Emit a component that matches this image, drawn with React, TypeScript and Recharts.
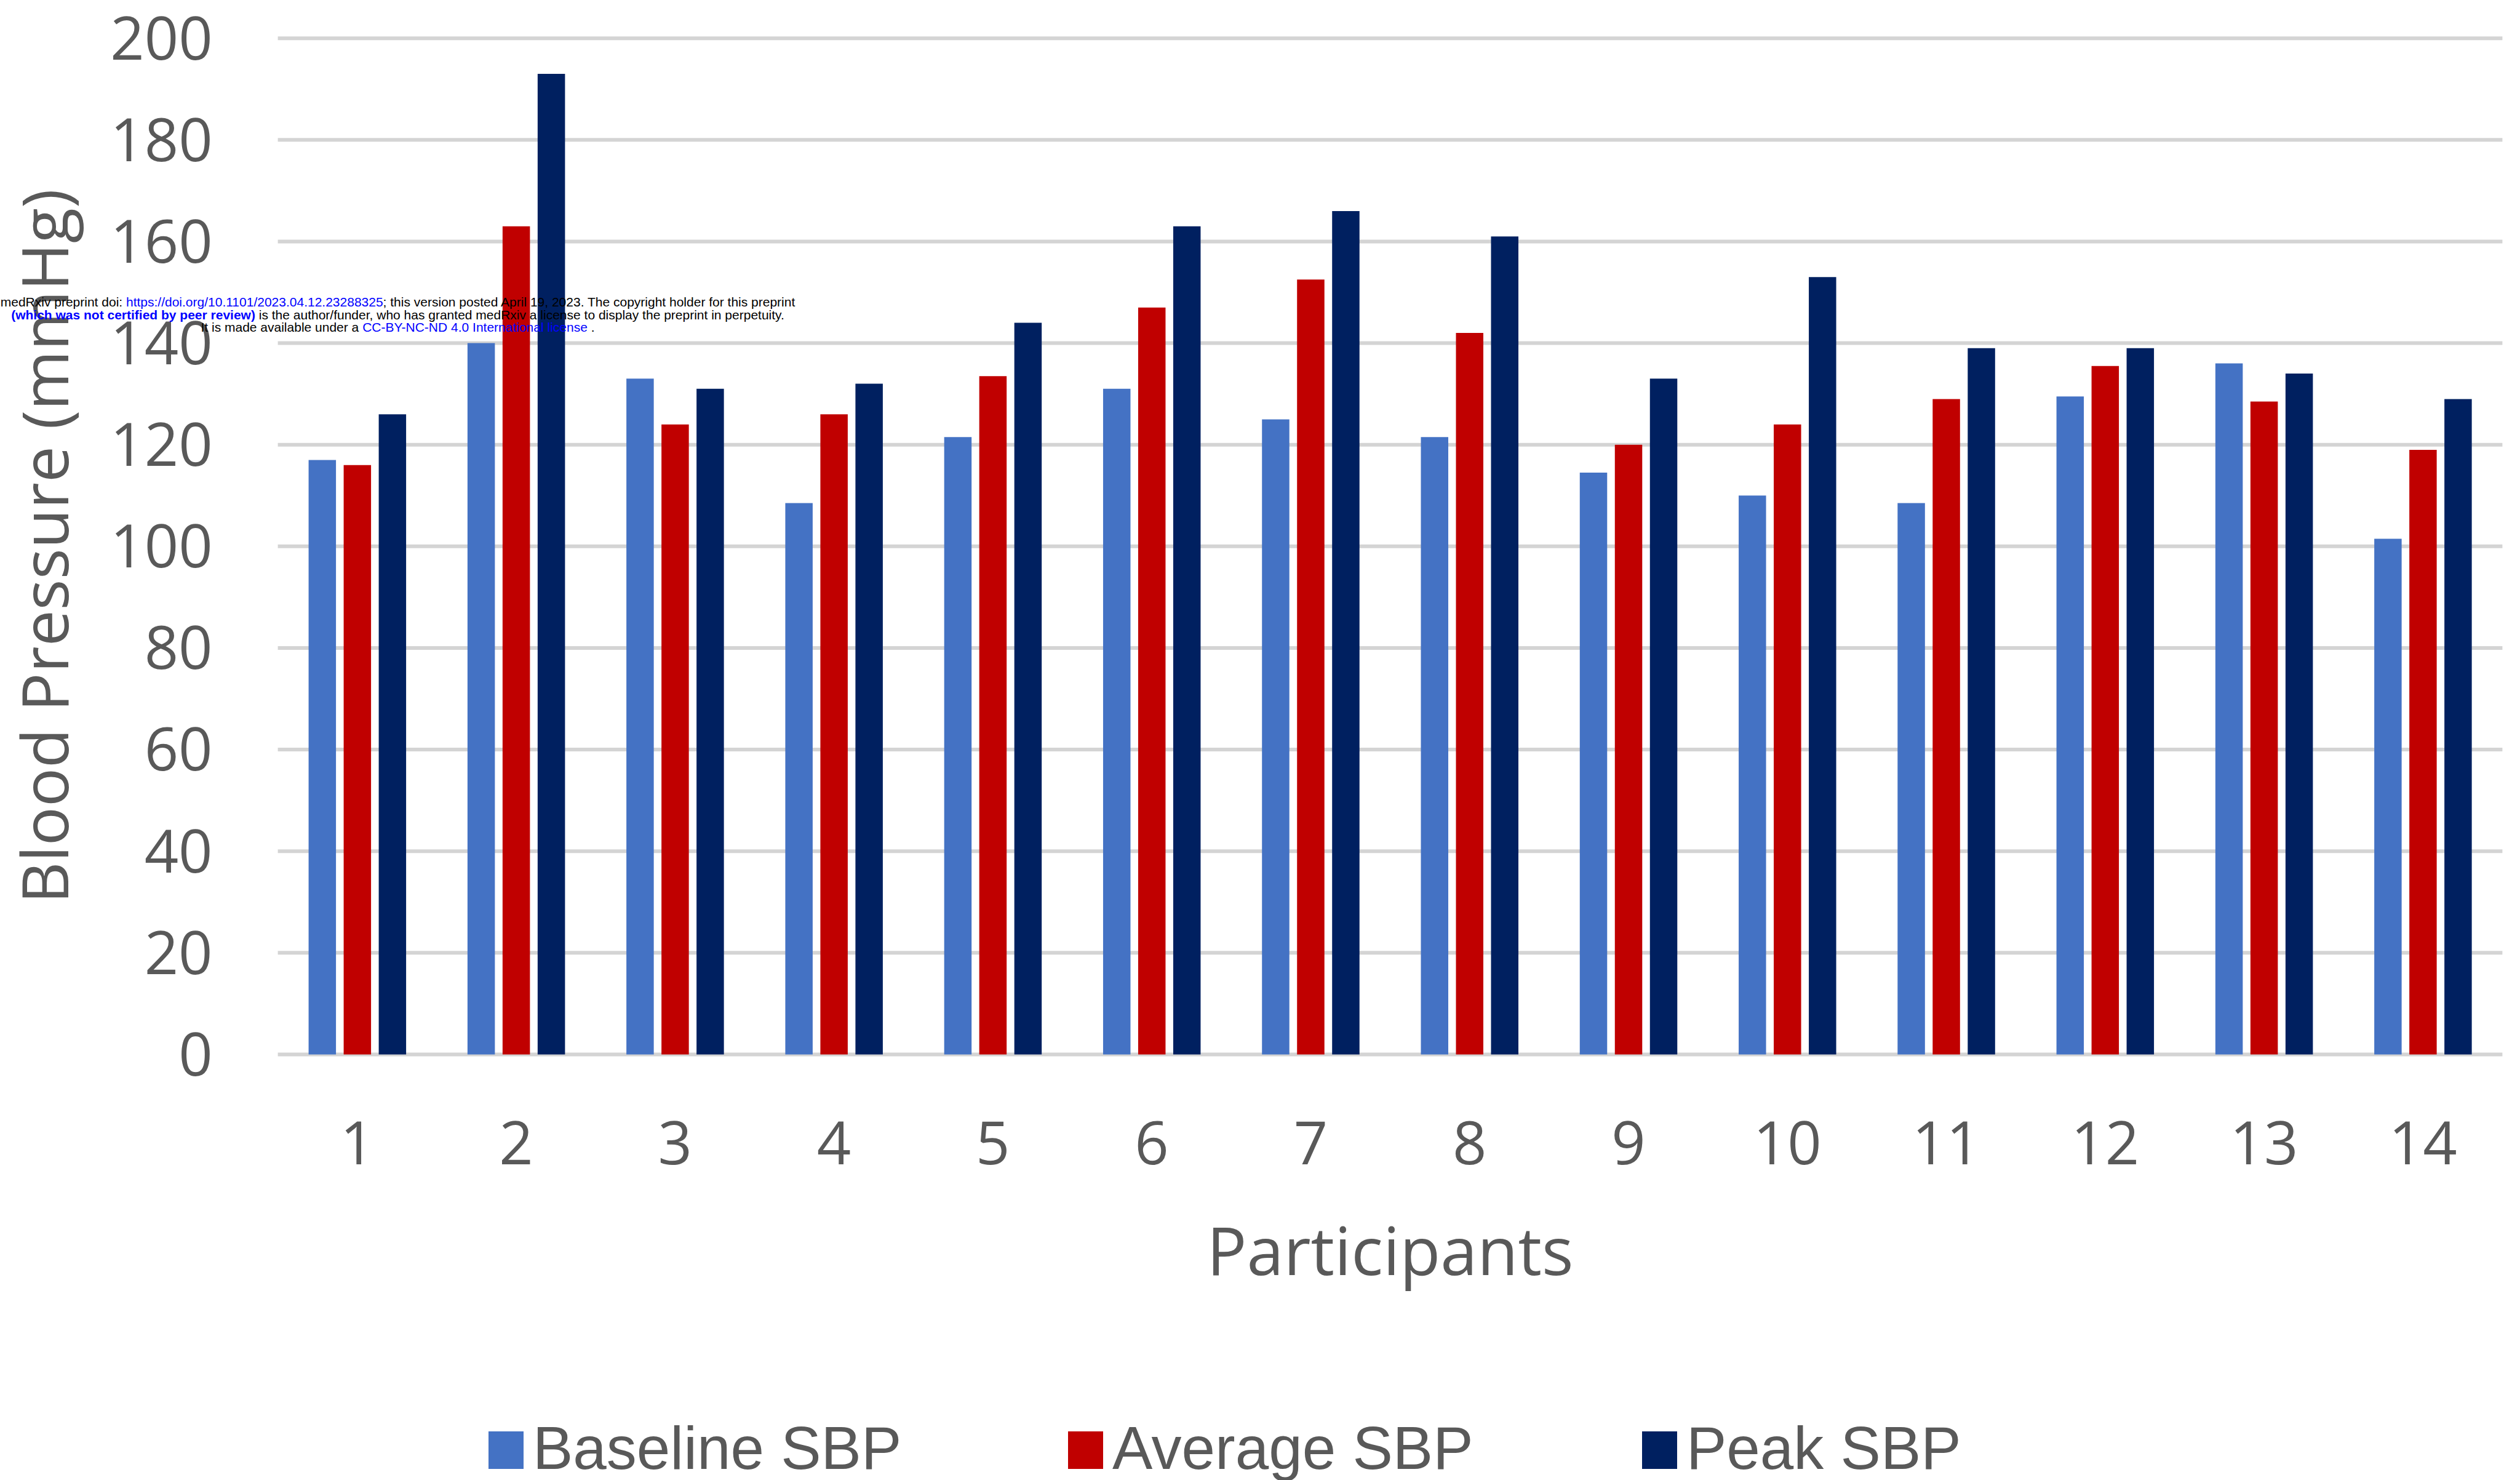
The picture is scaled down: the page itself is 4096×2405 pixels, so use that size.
import { BarChart, Bar, XAxis, YAxis, CartesianGrid, Legend } from 'recharts';

// values (systolic BP, mmHg)
const participants = ['1', '2', '3', '4', '5', '6', '7', '8', '9', '10', '11', '12', '13', '14'];
const baselineSBP = [117, 140, 133, 108.5, 121.5, 131, 125, 121.5, 114.5, 110, 108.5, 129.5, 136, 101.5];
const averageSBP = [116, 163, 124, 126, 133.5, 147, 152.5, 142, 120, 124, 129, 135.5, 128.5, 119];
const peakSBP = [126, 193, 131, 132, 144, 163, 166, 161, 133, 153, 139, 139, 134, 129];
const yTicks = [0, 20, 40, 60, 80, 100, 120, 140, 160, 180, 200];

const seriesKeys = ['baseline', 'average', 'peak'];
const seriesNames = ['Baseline SBP', 'Average SBP', 'Peak SBP'];
const seriesColors = ['#4472C4', '#C00000', '#002060'];

const data = participants.map((p, i) => ({
  participant: p,
  baseline: baselineSBP[i],
  average: averageSBP[i],
  peak: peakSBP[i],
}));

const W = 4096;
const H = 2405;
const TEXT = '#595959';
const AXIS_FONT = '"Open Sans", "Noto Sans", sans-serif';
const ARIAL = '"Liberation Sans", Arial, sans-serif';

const PLOT_TOP = 62.2;
const PLOT_BOTTOM = 1713.4;
const PLOT_LEFT = 451.6;
const PLOT_RIGHT = 4067.4;
const XAXIS_H = 300;

const legendLefts = [794, 1736, 2669];

const renderLegend = () => (
  <svg width={W} height={105}>
    {seriesNames.map((name, i) => (
      <g key={name}>
        <rect x={legendLefts[i]} y={26} width={57} height={61} fill={seriesColors[i]} />
        <text x={legendLefts[i] + 72} y={87} fontFamily={ARIAL} fontSize={98} fill={TEXT}>
          {name}
        </text>
      </g>
    ))}
  </svg>
);

const renderYTitle = () => {
  const cy = (PLOT_TOP + PLOT_BOTTOM) / 2;
  const x = 111.5;
  return (
    <text
      x={x}
      y={cy}
      transform={`rotate(-90 ${x} ${cy})`}
      textAnchor="middle"
      fontFamily={AXIS_FONT}
      fontSize={105}
      fill={TEXT}
    >
      Blood Pressure (mmHg)
    </text>
  );
};

const renderXTitle = () => (
  <text
    x={(PLOT_LEFT + PLOT_RIGHT) / 2}
    y={2072}
    textAnchor="middle"
    fontFamily={AXIS_FONT}
    fontSize={108}
    fill={TEXT}
  >
    Participants
  </text>
);

export default function App() {
  return (
    <div style={{ position: 'absolute', left: 0, top: 0, width: W, height: H, background: '#fff', overflow: 'hidden' }}>
      <BarChart
        width={W}
        height={H}
        data={data}
        barSize={44.5}
        barGap={12.5}
        margin={{ top: PLOT_TOP, right: W - PLOT_RIGHT, left: 0, bottom: H - PLOT_BOTTOM - XAXIS_H }}
      >
        <CartesianGrid vertical={false} stroke="#d4d4d4" strokeWidth={6} />
        <XAxis
          dataKey="participant"
          interval={0}
          height={XAXIS_H}
          tickLine={false}
          axisLine={false}
          tickSize={0}
          tickMargin={110}
          tick={{ fill: TEXT, fontSize: 97, fontFamily: AXIS_FONT }}
          label={renderXTitle}
        />
        <YAxis
          width={PLOT_LEFT}
          domain={[0, 200]}
          ticks={yTicks}
          interval={0}
          tickLine={false}
          axisLine={false}
          tickSize={0}
          tickMargin={106}
          tick={{ fill: TEXT, fontSize: 97, fontFamily: AXIS_FONT }}
          label={renderYTitle}
        />
        <Legend
          layout="horizontal"
          verticalAlign="middle"
          align="center"
          content={renderLegend}
          wrapperStyle={{ left: 0, top: 2300, width: W, height: 105 }}
        />
        {seriesKeys.map((k, i) => (
          <Bar key={k} dataKey={k} name={seriesNames[i]} fill={seriesColors[i]} isAnimationActive={false} />
        ))}
      </BarChart>
      <svg
        width={W}
        height={H}
        style={{ position: 'absolute', left: 0, top: 0, pointerEvents: 'none' }}
      >
        <g fontFamily={ARIAL} fontSize={21} textAnchor="middle">
          <text x={646.5} y={498.4}>
            <tspan fill="#000">medRxiv preprint doi: </tspan>
            <tspan fill="#0000ff">https://doi.org/10.1101/2023.04.12.23288325</tspan>
            <tspan fill="#000">; this version posted April 19, 2023. The copyright holder for this preprint</tspan>
          </text>
          <text x={646.5} y={519.2}>
            <tspan fill="#0000ff" fontWeight="bold">(which was not certified by peer review)</tspan>
            <tspan fill="#000"> is the author/funder, who has granted medRxiv a license to display the preprint in perpetuity.</tspan>
          </text>
          <text x={646.5} y={538.9}>
            <tspan fill="#000">It is made available under a </tspan>
            <tspan fill="#0000ff">CC-BY-NC-ND 4.0 International license</tspan>
            <tspan fill="#000"> .</tspan>
          </text>
        </g>
      </svg>
    </div>
  );
}
